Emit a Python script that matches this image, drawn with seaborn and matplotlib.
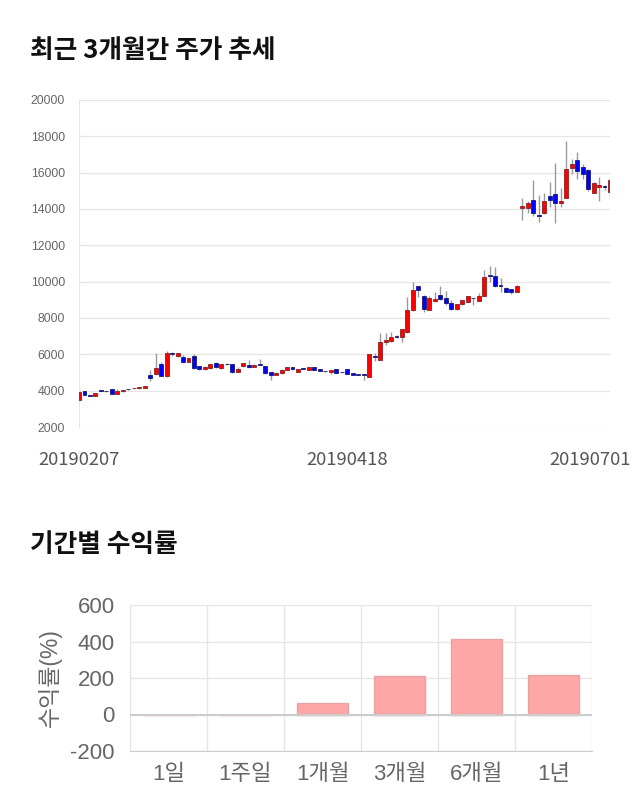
import numpy as np
import pandas as pd
import matplotlib
matplotlib.use("Agg")
import matplotlib.pyplot as plt
import seaborn as sns
from matplotlib.transforms import blended_transform_factory, ScaledTranslation

# ---------------- data ----------------
date_labels = ["20190207", "20190418", "20190701"]
date_label_idx = [0, 49, 97]

opens = [3500, 3970, 3750, 3725, 3995, 3975, 4070, 3820, 3970, 4075,
         4120, 4125, 4160, 4880, 4910, 5460, 4780, 6095, 5910, 5875,
         5600, 5910, 5360, 5180, 5235, 5510, 5235, 5460, 5455, 5050,
         5360, 5415, 5325, 5470, 5360, 5015, 4865, 4960, 5140, 5290,
         5050, 5220, 5160, 5305, 5180, 5075, 5015, 5180, 5020, 5180,
         4960, 4890, 4890, 4770, 5900, 5700, 6665, 6735, 6960, 6975,
         7215, 8440, 9765, 9215, 8440, 8955, 9270, 9085, 8810, 8480,
         8755, 8900, 9090, 8955, 9215, 10310, 10310, 9790, 9635, 9580,
         9450, 14040, 14040, 14500, 13630, 13765, 14720, 14825, 14310, 14590,
         16245, 16700, 16310, 16150, 14900, 15200, 15240, 14955]
highs = [4150, 4000, 3770, 3870, 4040, 4000, 4090, 4080, 4050, 4100,
         4150, 4200, 4250, 5140, 6060, 5600, 6180, 6150, 6100, 5950,
         5800, 6000, 5380, 5350, 5470, 5560, 5470, 5500, 5470, 5300,
         5530, 5690, 5470, 5740, 5380, 5030, 5050, 5200, 5320, 5310,
         5200, 5240, 5320, 5320, 5200, 5100, 5160, 5200, 5040, 5200,
         4980, 4900, 4900, 6000, 6050, 7160, 7200, 7240, 7050, 7400,
         9175, 10000, 9780, 9250, 9200, 9420, 9780, 9500, 9000, 8780,
         9000, 9230, 9100, 9350, 10650, 10880, 10800, 10200, 9700, 9620,
         9800, 14590, 14460, 15600, 14770, 14900, 15500, 16510, 15140, 17750,
         16740, 17120, 16500, 16200, 15500, 15780, 15320, 15700]
lows = [3480, 3760, 3700, 3680, 3960, 3950, 3820, 3800, 3950, 4050,
        4100, 4110, 4150, 4540, 4900, 4800, 4760, 5900, 5870, 5550,
        5580, 5200, 5150, 5150, 5220, 5270, 5220, 5430, 5000, 5030,
        5300, 5270, 5300, 5400, 4900, 4560, 4840, 4940, 5120, 5150,
        5030, 5190, 5140, 5140, 5070, 5050, 4900, 4980, 5000, 4900,
        4850, 4870, 4585, 4750, 5650, 5690, 6500, 6700, 6900, 6700,
        7200, 8400, 9175, 8350, 8420, 8900, 9000, 8700, 8450, 8460,
        8740, 8880, 8690, 8940, 9200, 10000, 9700, 9450, 9420, 9300,
        9420, 13400, 13800, 13620, 13300, 13700, 14090, 13240, 14090, 14580,
        15930, 15640, 15640, 15000, 14880, 14460, 15050, 14600]
closes = [3950, 3780, 3720, 3855, 3980, 3960, 3840, 3980, 4030, 4065,
          4130, 4180, 4235, 4720, 5270, 4815, 6095, 6000, 6060, 5600,
          5780, 5235, 5195, 5325, 5455, 5290, 5455, 5450, 5050, 5195,
          5510, 5290, 5435, 5415, 4960, 4865, 4995, 5140, 5290, 5180,
          5180, 5210, 5305, 5160, 5090, 5065, 5140, 4995, 5010, 4920,
          4865, 4880, 4880, 6000, 5880, 6665, 6790, 6975, 6950, 7380,
          8440, 9545, 9545, 8500, 9085, 9030, 9050, 8810, 8480, 8755,
          8990, 9215, 9080, 9215, 10280, 10300, 9780, 9780, 9450, 9450,
          9780, 14180, 14310, 13765, 13620, 14460, 14500, 14350, 14460, 16190,
          16480, 16100, 15930, 15090, 15415, 15325, 15230, 15600]

periods = ["1일", "1주일", "1개월", "3개월", "6개월", "1년"]
returns = [0, 0, 62, 212, 416, 214]

# ---------------- style ----------------
sns.set_style("white")
plt.rcParams["font.family"] = ["Liberation Sans", "Noto Sans CJK KR", "DejaVu Sans"]
plt.rcParams["axes.unicode_minus"] = False

W, H = 640, 810
fig = plt.figure(figsize=(W / 100, H / 100), dpi=100)
fig.patch.set_facecolor("white")

GRID = "#e6e6e6"
TXT = "#666666"

# ---------------- titles ----------------
fig.text(30 / W, 1 - 50 / H, "최근 3개월간 주가 추세", fontsize=18.5, fontweight="bold",
         family=["Noto Sans CJK KR"], color="#111111", va="center", ha="left")
fig.text(30 / W, 1 - 545 / H, "기간별 수익률", fontsize=18.5, fontweight="bold",
         family=["Noto Sans CJK KR"], color="#111111", va="center", ha="left")

# ---------------- candlestick chart ----------------
ax1 = fig.add_axes([79 / W, 1 - 427 / H, (610 - 79) / W, (427 - 100) / H])
df = pd.DataFrame({"open": opens, "high": highs, "low": lows, "close": closes})
df["idx"] = np.arange(len(df))
df["up"] = df["close"] >= df["open"]
df["bottom"] = df[["open", "close"]].min(axis=1)
df["height"] = (df["close"] - df["open"]).abs().clip(lower=45)

ax1.vlines(df["idx"], df["low"], df["high"], color="#9a9a9a", lw=1, zorder=2)
up = df[df["up"]]
dn = df[~df["up"]]
ax1.bar(up["idx"], up["height"], bottom=up["bottom"], width=0.72, color="#ff0000",
        edgecolor="#8a2020", linewidth=0.6, zorder=3)
ax1.bar(dn["idx"], dn["height"], bottom=dn["bottom"], width=0.72, color="#0000ff",
        edgecolor="#1a1a70", linewidth=0.6, zorder=3)

ax1.set_xlim(0, len(df) - 1)
ax1.set_ylim(2000, 20000)
ax1.set_yticks(np.arange(2000, 20001, 2000))
ax1.set_yticklabels([str(v) for v in range(2000, 20001, 2000)])
ax1.grid(axis="y", color=GRID, lw=1)
ax1.grid(axis="x", visible=False)
for s in ["top", "right", "bottom"]:
    ax1.spines[s].set_visible(False)
ax1.spines["left"].set_color(GRID)
ax1.tick_params(axis="y", length=9, color=GRID, labelsize=8.8, labelcolor=TXT, pad=1)
ax1.tick_params(axis="x", length=0, labelbottom=False)
ax1.set_xlabel("")
ax1.set_ylabel("")

tr = blended_transform_factory(ax1.transData, ax1.transAxes)
for lab, i in zip(date_labels, date_label_idx):
    t = tr
    if i == date_label_idx[-1]:
        t = tr + ScaledTranslation(-20 / 100, 0, fig.dpi_scale_trans)
    ax1.text(i, -0.101, lab, transform=t, ha="center", va="center", fontsize=13.3,
             family=["Noto Sans CJK KR"], color="#555555", clip_on=False)

# ---------------- returns bar chart ----------------
ax2 = fig.add_axes([130 / W, 1 - 751 / H, (592 - 130) / W, (751 - 605) / H])
rdf = pd.DataFrame({"period": periods, "ret": returns})
sns.barplot(data=rdf, x="period", y="ret", ax=ax2, color="#ffa6a6", saturation=1,
            edgecolor="#e4a4a4", linewidth=1, width=0.67, zorder=3)
ax2.set_xlim(-0.5, len(periods) - 0.5)
ax2.set_ylim(-200, 600)
ax2.set_yticks(np.arange(-200, 601, 200))
ax2.set_xticks(np.arange(-0.5, len(periods), 1), minor=True)
ax2.grid(axis="y", which="major", color=GRID, lw=1, zorder=0)
ax2.grid(axis="x", which="minor", color=GRID, lw=1, zorder=0)
ax2.grid(axis="x", which="major", visible=False)
ax2.axhline(0, color="#cccccc", lw=1.5, zorder=4)
for s in ["top", "right"]:
    ax2.spines[s].set_visible(False)
ax2.spines["left"].set_color(GRID)
ax2.spines["bottom"].set_color("#cccccc")
ax2.tick_params(axis="y", length=9, color=GRID, labelsize=16, labelcolor=TXT, pad=2)
ax2.tick_params(axis="x", which="major", length=0, labelsize=16, labelcolor=TXT, pad=9)
ax2.tick_params(axis="x", which="minor", length=9, color=GRID)
ax2.set_xlabel("")
ax2.set_ylabel("수익률(%)", fontsize=16.5, color=TXT, labelpad=6)

fig.savefig("out.png", dpi=100, facecolor="white")
